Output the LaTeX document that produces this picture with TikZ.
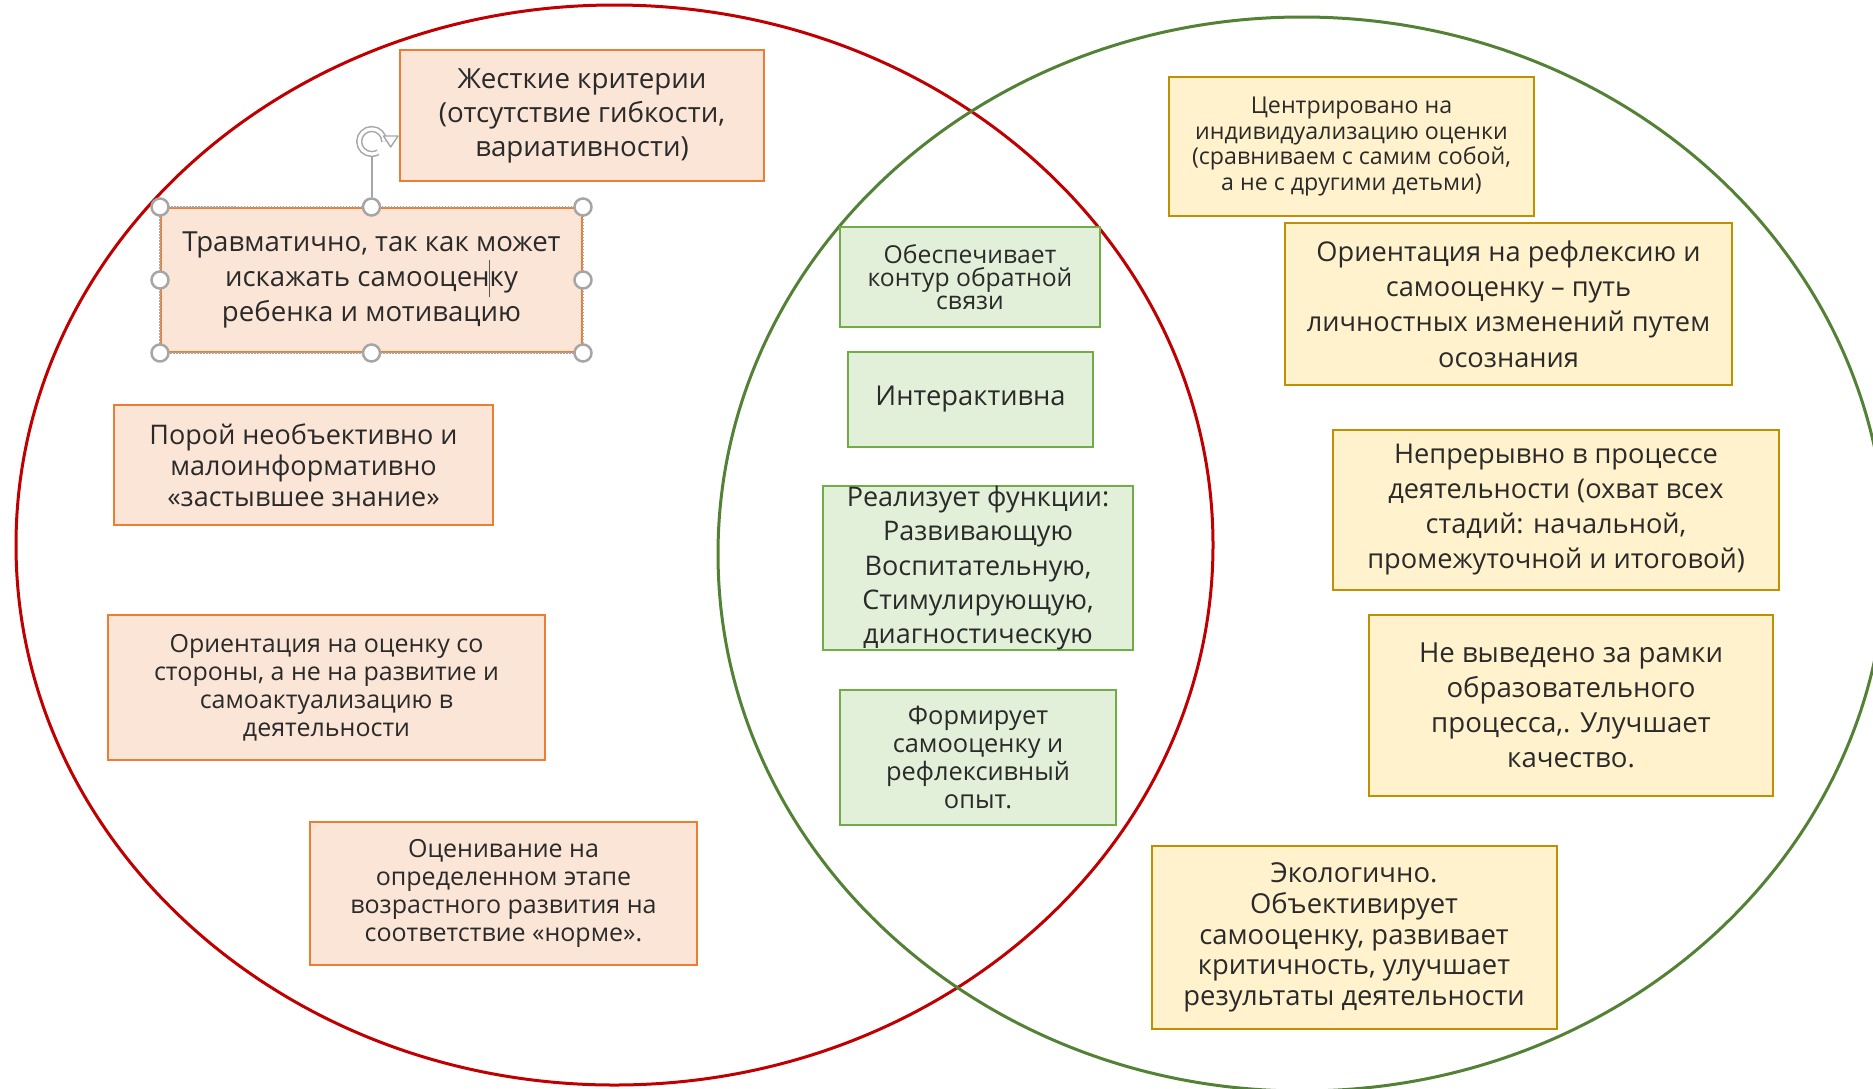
\documentclass[tikz,border=0pt]{standalone}
\usepackage{fontspec}
\setmainfont{Open Sans}
\usetikzlibrary{arrows.meta}
\definecolor{ored}{HTML}{C00000}
\definecolor{ogreen}{HTML}{538135}
\definecolor{orfill}{HTML}{FBE5D6}
\definecolor{ordraw}{HTML}{ED7D31}
\definecolor{grfill}{HTML}{E2F0D9}
\definecolor{grdraw}{HTML}{70AD47}
\definecolor{yefill}{HTML}{FFF2CC}
\definecolor{yedraw}{HTML}{BF9000}
\definecolor{txt}{HTML}{2A2A2A}
\definecolor{hnd}{HTML}{A6A6A6}
\begin{document}
\begin{tikzpicture}[x=1pt,y=-1pt,
  box/.style={rectangle, line width=2pt, inner sep=0pt, align=center, text=txt},
  obox/.style={box, fill=orfill, draw=ordraw},
  gbox/.style={box, fill=grfill, draw=grdraw},
  ybox/.style={box, fill=yefill, draw=yedraw},
  fs/.style n args={2}{font=\fontsize{#1}{#2}\selectfont},
  handle/.style={circle, fill=white, draw=hnd, line width=2.5pt, minimum size=17pt, inner sep=0pt},
  txtnode/.style={align=center, text=txt, inner sep=0pt}
]
\useasboundingbox (0,0) rectangle (1873,1088);
\clip (0,0) rectangle (1873,1088);
\fill[white] (0,0) rectangle (1873,1088);

% ellipses
\draw[ored, line width=3pt] (614.5,545) ellipse [x radius=598.5pt, y radius=540pt];
\draw[ogreen, line width=3pt] (1302,554) ellipse [x radius=584pt, y radius=537pt];

% orange boxes
\node[obox, fs={27.7}{34}, minimum width=364pt, minimum height=131pt] (b1) at (582,115.5)
  {Жесткие критерии\\(отсутствие гибкости,\\вариативности)};
\node[obox, fs={27.6}{34.7}, minimum width=421pt, minimum height=144pt] (b2) at (371.5,280)
  {Травматично, так как может\\искажать самооценку\\ребенка и мотивацию};
\node[obox, fs={27}{31.2}, minimum width=379pt, minimum height=120pt] (b3) at (303.5,465)
  {Порой необъективно и\\малоинформативно\\«застывшее знание»};
\node[obox, fs={25}{28.1}, minimum width=437pt, minimum height=145pt] (b4) at (326.5,687.5)
  {Ориентация на оценку со\\стороны, а не на развитие и\\самоактуализацию в\\деятельности};
\node[obox, fs={25}{27.8}, minimum width=387pt, minimum height=143pt] (b5) at (503.5,893.5)
  {Оценивание на\\определенном этапе\\возрастного развития на\\соответствие «норме».};

% selection decoration on b2
\draw[hnd, line width=1.2pt, dash pattern=on 1.5pt off 1.5pt] (b2.north west) rectangle (b2.south east);
\draw[txt!80, line width=1pt] (489,260) -- (489,297);
\node[circle, minimum size=25pt, inner sep=0pt] (rot) at (371.5,141.5) {};
\node[handle] (h1) at (b2.north west) {};
\node[handle] (h2) at (b2.north) {};
\node[handle] (h3) at (b2.north east) {};
\node[handle] (h4) at (b2.west) {};
\node[handle] (h5) at (b2.east) {};
\node[handle] (h6) at (b2.south west) {};
\node[handle] (h7) at (b2.south) {};
\node[handle] (h8) at (b2.south east) {};
\draw[hnd, line width=2pt] (h2.north) -- (rot.south);
\draw[hnd, line width=1.5pt, double=white, double distance=3.2pt] (rot.0) arc[start angle=0, end angle=300, radius=12.5pt];
\draw[hnd, line width=1.4pt, fill=white, line join=round] (383.5,136) -- (398,136) -- (390.7,147) -- cycle;

% green boxes
\node[gbox, fs={24.7}{23.3}, minimum width=260pt, minimum height=100pt] (b6) at (970,277)
  {Обеспечивает\\контур обратной\\связи};
\node[gbox, fs={27.3}{34}, minimum width=245pt, minimum height=95pt] (b7) at (970.5,399.5)
  {Интерактивна};
\node[gbox, minimum width=310pt, minimum height=164pt] (b8) at (978,568) {};
\node[txtnode, fs={27}{34.3}] (t8) at (b8.center)
  {Реализует функции:\\Развивающую\\Воспитательную,\\Стимулирующую,\\диагностическую};
\node[gbox, fs={25.4}{27.9}, minimum width=276pt, minimum height=135pt] (b9) at (978,757.5)
  {Формирует\\самооценку и\\рефлексивный\\опыт.};

% yellow boxes
\node[ybox, fs={23.2}{25.4}, minimum width=365pt, minimum height=139pt] (b10) at (1351.5,146.5)
  {Центрировано на\\индивидуализацию оценки\\(сравниваем с самим собой,\\а не с другими детьми)};
\node[ybox, fs={27.2}{35.3}, minimum width=447pt, minimum height=162pt] (b11) at (1508.5,304)
  {Ориентация на рефлексию и\\самооценку – путь\\личностных изменений путем\\осознания};
\node[ybox, fs={27.2}{35}, minimum width=446pt, minimum height=160pt] (b12) at (1556,510)
  {Непрерывно в процессе\\деятельности (охват всех\\стадий: начальной,\\промежуточной и итоговой)};
\node[ybox, fs={27.6}{35}, minimum width=404pt, minimum height=181pt] (b13) at (1571,705.5)
  {Не выведено за рамки\\образовательного\\процесса,. Улучшает\\качество.};
\node[ybox, fs={27.4}{30.8}, minimum width=405pt, minimum height=183pt] (b14) at (1354,937.5)
  {Экологично.\\Объективирует\\самооценку, развивает\\критичность, улучшает\\результаты деятельности};
\end{tikzpicture}
\end{document}
